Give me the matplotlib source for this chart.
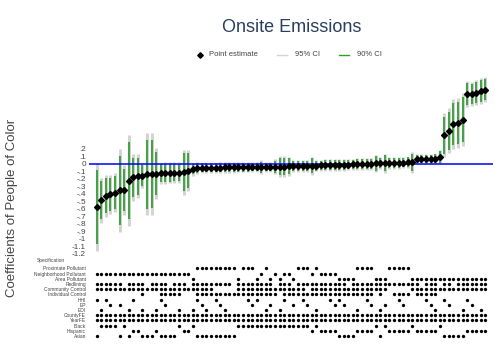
import matplotlib
matplotlib.use('Agg')
import matplotlib.pyplot as plt
from matplotlib.lines import Line2D
import numpy as np

plt.rcParams['font.family'] = ['Liberation Sans', 'DejaVu Sans']

# ---------------- data ----------------
estimates = [-0.576, -0.486, -0.428, -0.406, -0.384, -0.353, -0.353, -0.223, -0.178, -0.165,
             -0.156, -0.138, -0.134, -0.129, -0.125, -0.120, -0.116, -0.116, -0.115, -0.112,
             -0.089, -0.071, -0.054,
             -0.052, -0.051, -0.050, -0.050, -0.049, -0.048, -0.048, -0.047, -0.046, -0.046,
             -0.045, -0.044, -0.043, -0.042, -0.041, -0.040, -0.038,
             -0.036, -0.035, -0.034, -0.032, -0.030, -0.029, -0.027, -0.025, -0.023, -0.021,
             -0.019, -0.017, -0.015, -0.013, -0.011, -0.009, -0.007, -0.004, -0.002, 0.000,
             0.003, 0.006,
             0.008, 0.010, 0.012, 0.014, 0.016, 0.018, 0.020, 0.022,
             0.064, 0.065, 0.066, 0.067, 0.070, 0.094,
             0.384, 0.446, 0.535, 0.549, 0.593, 0.933, 0.935, 0.950, 0.977, 0.995]

std_err = [0.300, 0.155, 0.143, 0.134, 0.134, 0.283, 0.170, 0.310, 0.160, 0.150,
           0.088, 0.280, 0.280, 0.176, 0.073, 0.073, 0.073, 0.072, 0.072, 0.155,
           0.140, 0.043, 0.040,
           0.035, 0.035, 0.035, 0.035, 0.035, 0.035, 0.035, 0.035, 0.035, 0.035,
           0.035, 0.035, 0.035, 0.045, 0.035, 0.035, 0.050,
           0.070, 0.070, 0.065, 0.040, 0.040, 0.040, 0.040, 0.060, 0.040, 0.040,
           0.040, 0.040, 0.040, 0.040, 0.040, 0.040, 0.040, 0.040, 0.040, 0.040,
           0.040, 0.060,
           0.040, 0.065, 0.040, 0.040, 0.040, 0.040, 0.040, 0.070,
           0.035, 0.035, 0.035, 0.035, 0.035, 0.050,
           0.150, 0.155, 0.170, 0.170, 0.180, 0.090, 0.085, 0.085, 0.088, 0.088]

spec_labels = ["Proximate Pollutant", "Neighborhood Pollutant", "Area Pollutant",
               "Redlining", "Community Control", "Individual Control",
               "HHI", "EP", "EDI", "CountyFE", "YearFE", "Black", "Hispanic", "Asian"]

# columns (specifications, sorted by estimate) where each feature is switched on
proximate_on = [*range(22, 31), *range(32, 35), 37, 44, 45, 46, 48, *range(57, 61), *range(64, 69)]
neighborhood_on = [*range(0, 21), 36, 39, 41, 42, 47, *range(49, 53)]
area_on = [21, 31, 35, 38, 40, 43, *range(53, 57), *range(61, 64), *range(69, 86)]
redlining_on = [*range(0, 6), *range(7, 11), *range(12, 16), *range(17, 20), *range(21, 30),
                *range(31, 39), *range(40, 43), *range(44, 55), *range(56, 71), *range(72, 75),
                76, 77, *range(79, 86)]
community_on = [*range(0, 26), *range(31, 46), *range(47, 64), *range(69, 86)]
individual_on = [10, *range(14, 19), *range(22, 40), *range(41, 61), 62, *range(65, 69), *range(70, 75)]
hhi_on = [0, 2, 8, 14, 22, 26, 33, 35, 41, 45, 51, 53, 59, 66, 72, 76, 81]
ep_on = [3, 5, 15, 23, 27, 34, 38, 43, 46, 52, 54, 60, 63, 67, 73, 77, 82]
edi_on = [1, 7, 10, 13, 18, 21, 24, 28, 37, 40, 48, 57, 62, 74, 80, 84]
county_on = [*range(0, 86)]
year_on = [*range(0, 86)]
black_on = [1, 2, 3, 4, 6, 18, 21, *range(31, 47), 48, 61, 63, 69, 75]
hispanic_on = [8, 9, 13, 19, 20, 47, *range(49, 53), *range(57, 61), *range(64, 69), *range(70, 75), *range(81, 86)]
asian_on = [0, 5, 7, 10, 11, 12, *range(14, 18), *range(22, 31), *range(53, 57), 62, *range(76, 81)]

spec_rows = [proximate_on, neighborhood_on, area_on, redlining_on, community_on, individual_on,
             hhi_on, ep_on, edi_on, county_on, year_on, black_on, hispanic_on, asian_on]

ytick_vals = [0.2, 0.1, 0.0, -0.1, -0.2, -0.3, -0.4, -0.5, -0.6, -0.7, -0.8, -0.9, -1.0, -1.1, -1.2]
ytick_text = [".2", ".1", "0", "-.1", "-.2", "-.3", "-.4", "-.5", "-.6", "-.7", "-.8", "-.9",
              "-1", "-1.1", "-1.2"]

# ---------------- figure ----------------
W, H = 495, 354
fig = plt.figure(figsize=(W / 100, H / 100), dpi=100)
fig.patch.set_facecolor('white')

def fbox(x0, y0, x1, y1):
    return [x0 / W, 1 - y1 / H, (x1 - x0) / W, (y1 - y0) / H]

TXT = '#444444'
GREEN = '#2e9a2e'
GRAY = '#d3d3d3'

est = np.array(estimates)
se = np.array(std_err)
x = np.arange(len(est))

ax = fig.add_axes(fbox(89, 75, 493, 257.3))
ax.vlines(x, est - 1.96 * se, est + 1.96 * se, color=GRAY, lw=2.1, zorder=1)
ax.vlines(x, est - 1.645 * se, est + 1.645 * se, color=GREEN, lw=1.5, alpha=0.85, zorder=2)
ax.axhline(0, color='#0000ff', lw=1.1, zorder=3)
ax.plot(x, est, linestyle='none', marker='D', markersize=3.0, color='black', zorder=4)
ax.set_xlim(-1.68, 86.65)
ax.set_ylim(-1.25, 1.19)
ax.set_yticks(ytick_vals)
ax.set_yticklabels(ytick_text)
ax.tick_params(axis='y', length=0, pad=2.2, labelsize=5.9, labelcolor=TXT)
ax.set_xticks([])
for s in ax.spines.values():
    s.set_visible(False)

ax2 = fig.add_axes(fbox(89, 263, 493, 341))
for k, cols in enumerate(spec_rows):
    ax2.plot(cols, [k] * len(cols), linestyle='none', marker='o', markersize=2.4,
             color='black', markeredgewidth=0)
ax2.set_xlim(-1.68, 86.65)
ax2.set_ylim(13.95, -1.02)
ax2.set_yticks(range(len(spec_labels)))
ax2.set_yticklabels(spec_labels)
ax2.tick_params(axis='y', length=0, pad=2.2, labelsize=3.5, labelcolor=TXT)
ax2.set_xticks([])
for s in ax2.spines.values():
    s.set_visible(False)

fig.text(51 / W, 1 - 260.7 / H, "Specification", fontsize=3.5, color=TXT, ha='center', va='center')

# title
fig.text(291.5 / W, 1 - 28 / H, "Onsite Emissions", fontsize=13, color='#2a3f5f',
         ha='center', va='center')

# y label
fig.text(12 / W, 1 - 208 / H, "Coefficients of People of Color", fontsize=9.5, color=TXT,
         rotation=90, ha='center', va='center')

# legend
ly = 1 - 55 / H
fig.add_artist(Line2D([200 / W], [ly], marker='D', markersize=2.8, color='black',
                      linestyle='none', transform=fig.transFigure))
fig.text(209 / W, ly, "Point estimate", fontsize=5.5, color=TXT, ha='left', va='center')
fig.add_artist(Line2D([277 / W, 287 / W], [ly, ly], color=GRAY, lw=1.0, transform=fig.transFigure))
fig.text(295 / W, ly, "95% CI", fontsize=5.5, color=TXT, ha='left', va='center')
fig.add_artist(Line2D([339 / W, 349 / W], [ly, ly], color='#2ca02c', lw=1.0, transform=fig.transFigure))
fig.text(357 / W, ly, "90% CI", fontsize=5.5, color=TXT, ha='left', va='center')

fig.savefig('out.png', dpi=100)
